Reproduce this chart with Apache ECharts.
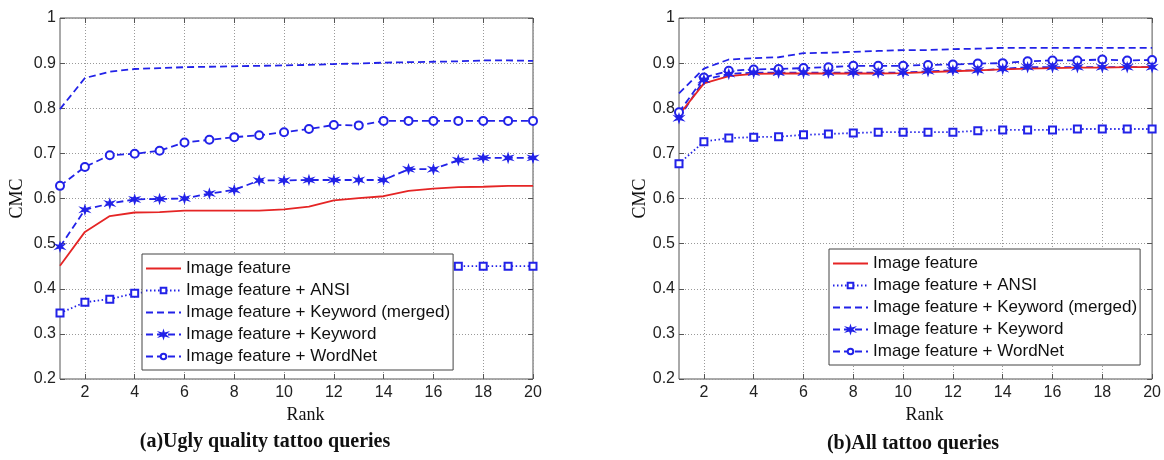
<!DOCTYPE html>
<html>
<head>
<meta charset="utf-8">
<script src="https://cdn.jsdelivr.net/npm/echarts@6/dist/echarts.min.js"></script>
<style>
html,body{margin:0;padding:0;background:#fff}
#main{width:1164px;height:460px}
</style>
</head>
<body>
<div id="main"></div>
<script>
// ranks on the x axis
var ranks = ['1','2','3','4','5','6','7','8','9','10','11','12','13','14','15','16','17','18','19','20'];
var yMin = 0.2, yMax = 1, yStep = 0.1;

var legendNames = [
    'Image feature',
    'Image feature + ANSI',
    'Image feature + Keyword (merged)',
    'Image feature + Keyword',
    'Image feature + WordNet'
];
var chartTitles = ['(a)Ugly quality tattoo queries', '(b)All tattoo queries'];

// (a) ugly quality
var uglyImage   = [0.451,0.526,0.561,0.569,0.570,0.573,0.573,0.573,0.573,0.576,0.582,0.596,0.601,0.605,0.617,0.622,0.625,0.626,0.628,0.628];
var uglyAnsi    = [0.346,0.370,0.377,0.390,0.395,0.400,0.405,0.410,0.415,0.420,0.425,0.430,0.435,0.440,0.445,0.450,0.450,0.450,0.450,0.450];
var uglyMerged  = [0.798,0.867,0.881,0.887,0.889,0.891,0.892,0.893,0.894,0.895,0.896,0.898,0.899,0.901,0.902,0.903,0.904,0.906,0.906,0.905];
var uglyKeyword = [0.493,0.575,0.589,0.598,0.599,0.600,0.611,0.619,0.640,0.640,0.641,0.641,0.641,0.641,0.665,0.665,0.685,0.690,0.690,0.690];
var uglyWordnet = [0.628,0.670,0.696,0.699,0.706,0.724,0.730,0.736,0.740,0.747,0.754,0.763,0.762,0.772,0.772,0.772,0.772,0.772,0.772,0.772];

// (b) all queries
var allImage   = [0.785,0.855,0.871,0.876,0.877,0.877,0.877,0.877,0.877,0.878,0.880,0.882,0.884,0.886,0.888,0.889,0.890,0.890,0.891,0.891];
var allAnsi    = [0.677,0.726,0.734,0.736,0.737,0.741,0.743,0.745,0.747,0.747,0.747,0.747,0.750,0.752,0.752,0.752,0.754,0.754,0.754,0.754];
var allMerged  = [0.833,0.888,0.908,0.911,0.913,0.922,0.923,0.925,0.927,0.929,0.929,0.931,0.932,0.934,0.934,0.934,0.934,0.934,0.934,0.934];
var allKeyword = [0.778,0.863,0.876,0.879,0.879,0.879,0.879,0.879,0.879,0.879,0.882,0.884,0.884,0.887,0.891,0.891,0.891,0.891,0.891,0.891];
var allWordnet = [0.791,0.868,0.883,0.886,0.887,0.889,0.891,0.894,0.894,0.894,0.896,0.897,0.899,0.900,0.904,0.906,0.906,0.908,0.906,0.907];

var BLUE = '#2222e8';
var RED = '#e52525';
var STAR = 'path://M5,0L6,3.6L9.3,2.5L7,5L9.3,7.5L6,6.4L5,10L4,6.4L0.7,7.5L3,5L0.7,2.5L4,3.6Z';
var evenRank = function(idx){ return idx % 2 === 1; };

var lineStyles = [
    {color: RED, type: 'solid', symbol: 'none', size: 0},
    {color: BLUE, type: [1.5, 2.5], symbol: 'emptyRect', size: 7},
    {color: BLUE, type: [7, 4], symbol: 'none', size: 0},
    {color: BLUE, type: [7, 4], symbol: STAR, size: 8},
    {color: BLUE, type: [7, 4], symbol: 'emptyCircle', size: 8}
];

function makeSeries(g, vals){
    return vals.map(function(v, i){
        var s = lineStyles[i];
        var noMark = s.symbol === 'none';
        return {
            name: legendNames[i],
            type: 'line',
            xAxisIndex: g * 2,
            yAxisIndex: g * 2,
            data: v,
            symbol: noMark ? 'circle' : s.symbol,
            symbolSize: s.size,
            showSymbol: !noMark,
            animation: false,
            z: 2,
            lineStyle: {color: s.color, width: 1.8, type: s.type},
            itemStyle: {color: s.color, borderColor: s.color, borderWidth: 1.4, opacity: noMark ? 0 : 1}
        };
    }).reverse();
}

function xAxes(g){
    var base = {
        type: 'category',
        gridIndex: g,
        data: ranks,
        boundaryGap: false,
        axisLine: {show: false},
        axisTick: {inside: true, length: 5, interval: evenRank, lineStyle: {color: '#555'}},
        splitLine: {show: false}
    };
    var bottom = echarts.util.merge({
        position: 'bottom',
        name: 'Rank',
        nameLocation: 'middle',
        nameGap: 24,
        nameTextStyle: {fontFamily: 'Liberation Serif', fontSize: 18, color: '#111', padding: [0, 0, 0, 18]},
        axisLabel: {interval: evenRank, margin: 6, fontFamily: 'Liberation Sans', fontSize: 16, color: '#222'},
        splitLine: {show: true, interval: evenRank, lineStyle: {type: [1, 2], color: '#999', width: 1}}
    }, base, false);
    var top = echarts.util.merge({position: 'top', axisLabel: {show: false}}, base, false);
    return [bottom, top];
}

function yAxes(g, gap){
    var base = {
        type: 'value',
        gridIndex: g,
        min: yMin,
        max: yMax,
        interval: yStep,
        axisLine: {show: false},
        axisTick: {show: true, inside: true, length: 5, lineStyle: {color: '#555'}},
        splitLine: {show: false}
    };
    var left = echarts.util.merge({
        position: 'left',
        name: 'CMC',
        nameLocation: 'middle',
        nameGap: gap,
        nameTextStyle: {fontFamily: 'Liberation Serif', fontSize: 18, color: '#111'},
        axisLabel: {margin: 4, fontFamily: 'Liberation Sans', fontSize: 16, color: '#222',
            formatter: function(v){ return String(Math.round(v * 10) / 10); }},
        splitLine: {show: true, lineStyle: {type: [1, 2], color: '#999', width: 1}}
    }, base, false);
    var right = echarts.util.merge({position: 'right', axisLabel: {show: false}}, base, false);
    return [left, right];
}

function legendAt(left, top){
    return {
        show: true,
        z: 20,
        orient: 'vertical',
        left: left,
        top: top,
        data: legendNames.map(function(n, i){
            return lineStyles[i].symbol === 'none' ? {name: n, itemStyle: {opacity: 0}} : {name: n};
        }),
        itemWidth: 35,
        itemHeight: 7,
        itemGap: 5,
        padding: [6, 3, 5, 3],
        backgroundColor: '#fff',
        borderColor: '#444',
        borderWidth: 1,
        borderRadius: 0,
        selectedMode: false,
        textStyle: {fontFamily: 'Liberation Sans', fontSize: 17, color: '#111', lineHeight: 16}
    };
}

var chart = echarts.init(document.getElementById('main'));
var titleStyle = {fontFamily: 'Liberation Serif', fontSize: 20, fontWeight: 'bold', color: '#111'};

var option = {
    backgroundColor: '#fff',
    animation: false,
    title: [
        {text: chartTitles[0], left: 265, top: 432, textAlign: 'center', padding: 0, textStyle: titleStyle},
        {text: chartTitles[1], left: 913, top: 434, textAlign: 'center', padding: 0, textStyle: titleStyle}
    ],
    grid: [
        {left: 60, top: 18, width: 473, height: 361, show: true, borderColor: '#555', borderWidth: 1, backgroundColor: 'transparent'},
        {left: 679, top: 18, width: 474, height: 361, show: true, borderColor: '#555', borderWidth: 1, backgroundColor: 'transparent'}
    ],
    legend: [legendAt(142, 254), legendAt(829, 249)],
    xAxis: xAxes(0).concat(xAxes(1)),
    yAxis: yAxes(0, 34).concat(yAxes(1, 30)),
    series: makeSeries(0, [uglyImage, uglyAnsi, uglyMerged, uglyKeyword, uglyWordnet])
        .concat(makeSeries(1, [allImage, allAnsi, allMerged, allKeyword, allWordnet]))
};

chart.setOption(option);
</script>
</body>
</html>
